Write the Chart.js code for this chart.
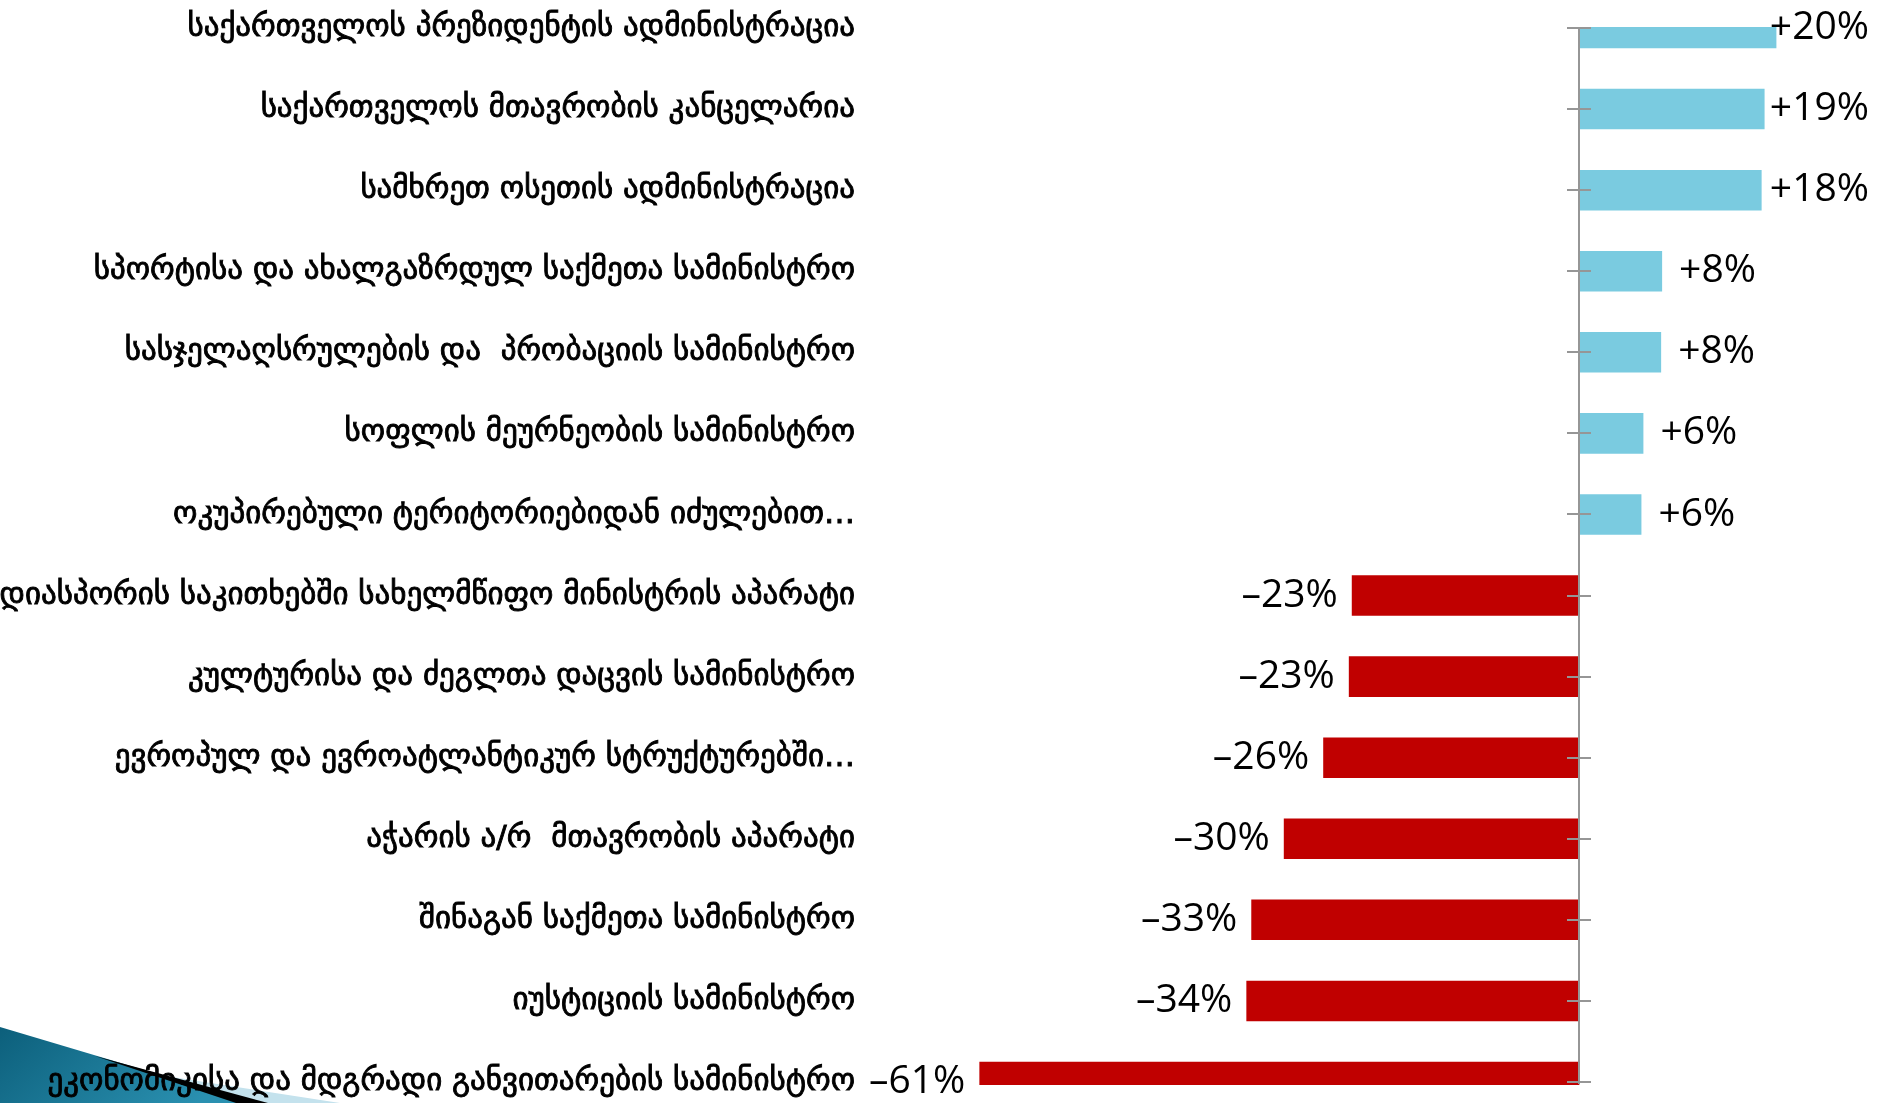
<!DOCTYPE html>
<html>
<head>
<meta charset="utf-8">
<script src="https://cdn.jsdelivr.net/npm/chart.js@4.4.1/dist/chart.umd.min.js"></script>
<style>
  html, body { margin: 0; padding: 0; background: #ffffff; }
  #wrap { position: relative; width: 1882px; height: 1103px; overflow: hidden; background: #ffffff; }
  #deco { position: absolute; left: 0; top: 0; }
  #c { position: absolute; left: 0; top: 0; }
</style>
</head>
<body>
<div id="wrap">
  <svg id="deco" width="1882" height="1103">
    <defs>
      <linearGradient id="teal" x1="0" y1="0" x2="1" y2="0.35">
        <stop offset="0" stop-color="#0c5f7b"/>
        <stop offset="1" stop-color="#2a90b0"/>
      </linearGradient>
    </defs>
    <polygon points="140,1072 340,1103 140,1103" fill="#c4e2ed"/>
    <polygon points="0,1027 255,1103 0,1103" fill="url(#teal)"/>
    <polygon points="95,1056 268,1103 236,1103" fill="#000000"/>
  </svg>
  <canvas id="c" width="1882" height="1103"></canvas>
</div>
<script>
// ---- data ----
const categories = [
  "საქართველოს პრეზიდენტის ადმინისტრაცია",
  "საქართველოს მთავრობის კანცელარია",
  "სამხრეთ ოსეთის ადმინისტრაცია",
  "სპორტისა და ახალგაზრდულ საქმეთა სამინისტრო",
  "სასჯელაღსრულების და  პრობაციის სამინისტრო",
  "სოფლის მეურნეობის სამინისტრო",
  "ოკუპირებული ტერიტორიებიდან იძულებით…",
  "დიასპორის საკითხებში სახელმწიფო მინისტრის აპარატი",
  "კულტურისა და ძეგლთა დაცვის სამინისტრო",
  "ევროპულ და ევროატლანტიკურ სტრუქტურებში…",
  "აჭარის ა/რ  მთავრობის აპარატი",
  "შინაგან საქმეთა სამინისტრო",
  "იუსტიციის სამინისტრო",
  "ეკონომიკისა და მდგრადი განვითარების სამინისტრო"
];
const changeValues = [20.0, 18.8, 18.5, 8.4, 8.3, 6.5, 6.3, -23.1, -23.4, -26.0, -30.0, -33.3, -33.8, -60.9];
const valueLabels = ["+20%", "+19%", "+18%", "+8%", "+8%", "+6%", "+6%",
                     "–23%", "–23%", "–26%", "–30%", "–33%", "–34%", "–61%"];
const axisRange = { min: -72, max: 29.5 };

// ---- styles ----
const POS_COLOR = "#7acbe0";
const NEG_COLOR = "#c00000";
const AXIS_COLOR = "#969696";
const LABEL_FONT = "39px 'Open Sans', 'DejaVu Sans', sans-serif";
const LABEL_RIGHT_LIMIT = 1869;

const zeroAxisAndLabels = {
  id: "zeroAxisAndLabels",
  afterDatasetsDraw(chart) {
    const { ctx, chartArea, scales } = chart;
    const xs = scales.x, ys = scales.y;
    const x0 = Math.round(xs.getPixelForValue(0));
    ctx.save();
    ctx.strokeStyle = AXIS_COLOR;
    ctx.lineWidth = 2;
    ctx.beginPath();
    ctx.moveTo(x0, chartArea.top - 1);
    ctx.lineTo(x0, chartArea.bottom + 2);
    categories.forEach((c, i) => {
      const yy = Math.round(ys.getPixelForValue(i));
      ctx.moveTo(x0 - 12, yy);
      ctx.lineTo(x0 + 12, yy);
    });
    ctx.stroke();

    const meta = chart.getDatasetMeta(0);
    ctx.font = LABEL_FONT;
    ctx.fillStyle = "#000000";
    ctx.textBaseline = "middle";
    meta.data.forEach((bar, i) => {
      if (changeValues[i] >= 0) {
        const w = ctx.measureText(valueLabels[i]).width;
        const lx = Math.min(bar.x + 17, LABEL_RIGHT_LIMIT - w);
        ctx.textAlign = "left";
        ctx.fillText(valueLabels[i], lx, bar.y);
      } else {
        ctx.textAlign = "right";
        ctx.fillText(valueLabels[i], bar.x - 14, bar.y);
      }
    });
    ctx.restore();
  }
};

new Chart(document.getElementById("c"), {
  type: "bar",
  data: {
    labels: categories,
    datasets: [{
      data: changeValues,
      backgroundColor: (ctx) => (ctx.raw >= 0 ? POS_COLOR : NEG_COLOR),
      borderWidth: 0,
      categoryPercentage: 0.5,
      barPercentage: 1.0,
      clip: { left: false, right: false, top: 1, bottom: 3 }
    }]
  },
  options: {
    indexAxis: "y",
    responsive: false,
    animation: false,
    layout: { padding: { top: 28, bottom: 21, left: 0, right: 12 } },
    plugins: { legend: { display: false }, tooltip: { enabled: false } },
    scales: {
      x: { display: false, min: axisRange.min, max: axisRange.max },
      y: {
        offset: false,
        grid: { display: false, drawTicks: false },
        border: { display: false },
        ticks: {
          autoSkip: false,
          padding: 15,
          color: "#000000",
          textStrokeColor: "#000000",
          textStrokeWidth: 0.9,
          font: { family: "'DejaVu Sans'", size: 31 }
        },
        afterFit(scale) {
          scale.width = 870;
          scale.paddingTop = 0;
          scale.paddingBottom = 0;
        }
      }
    }
  },
  plugins: [zeroAxisAndLabels]
});
</script>
</body>
</html>
